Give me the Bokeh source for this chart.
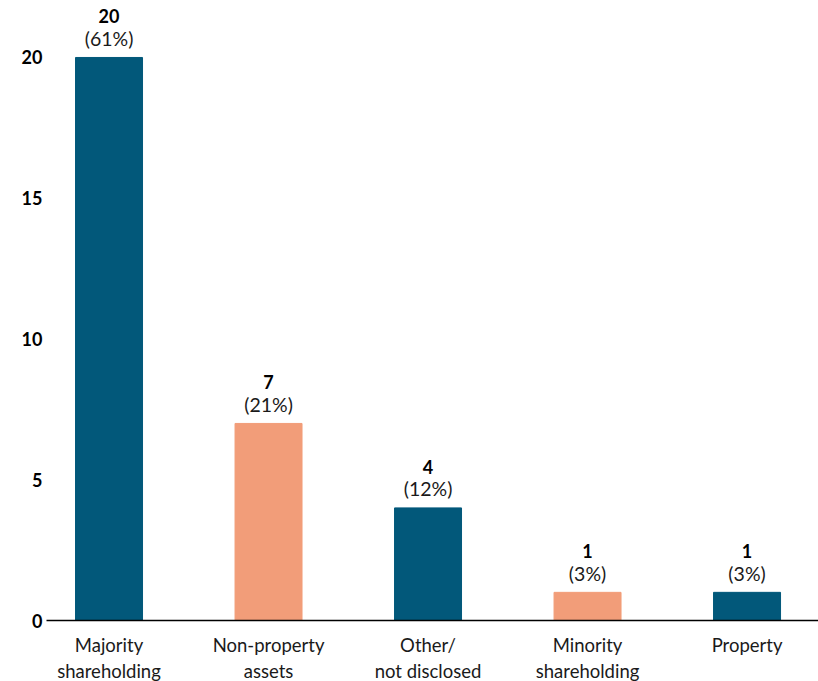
from bokeh.plotting import figure
from bokeh.models import ColumnDataSource, FixedTicker, Range1d
from bokeh.core.properties import value
from bokeh.embed import file_html
from bokeh.resources import INLINE

categories = ["Majority\nshareholding", "Non-property\nassets", "Other/\nnot disclosed",
              "Minority\nshareholding", "Property"]
counts = [20, 7, 4, 1, 1]
percents = ["(61%)", "(21%)", "(12%)", "(3%)", "(3%)"]
colors = ["#02587A", "#F29D79", "#02587A", "#F29D79", "#02587A"]
y_ticks = [0, 5, 10, 15, 20]

FONT = "Lato"

xs = list(range(len(categories)))
src = ColumnDataSource(dict(x=xs, top=counts, color=colors,
                            num=[str(c) for c in counts], pct=percents))

p = figure(width=818, height=681, output_backend="svg", toolbar_location=None,
           x_range=Range1d(-0.392, 4.448), y_range=Range1d(0, 21.74),
           min_border_left=46, min_border_right=0, min_border_top=8, min_border_bottom=61)
p.frame_width = 772
p.frame_height = 612
p.outline_line_color = None
p.grid.visible = False

p.vbar(x="x", top="top", width=0.42, bottom=0, color="color", source=src)

p.text(x="x", y="top", text="num", source=src, text_align="center", text_baseline="alphabetic",
       y_offset=-41, text_font=value(FONT), text_font_size="18px", text_font_style="bold",
       text_color="#000000")
p.text(x="x", y="top", text="pct", source=src, text_align="center", text_baseline="alphabetic",
       y_offset=-19, text_font=value(FONT), text_font_size="19.5px", text_color="#1a1a1a")

# x axis
p.xaxis.ticker = FixedTicker(ticks=xs)
p.xaxis.major_label_overrides = {i: c for i, c in enumerate(categories)}
p.xaxis.major_tick_line_color = None
p.xaxis.minor_tick_line_color = None
p.xaxis.axis_line_color = "#000000"
p.xaxis.axis_line_width = 1.5
p.xaxis.major_label_text_font = FONT
p.xaxis.major_label_text_font_size = "18.5px"
p.xaxis.major_label_text_color = "#1a1a1a"
p.xaxis.major_label_standoff = 7

# y axis
p.yaxis.ticker = FixedTicker(ticks=y_ticks)
p.yaxis.axis_line_color = None
p.yaxis.major_tick_line_color = None
p.yaxis.minor_tick_line_color = None
p.yaxis.major_label_text_font = FONT
p.yaxis.major_label_text_font_size = "18px"
p.yaxis.major_label_text_font_style = "bold"
p.yaxis.major_label_text_color = "#000000"
p.yaxis.major_label_standoff = -2

open("out.html", "w").write(file_html(p, INLINE))
